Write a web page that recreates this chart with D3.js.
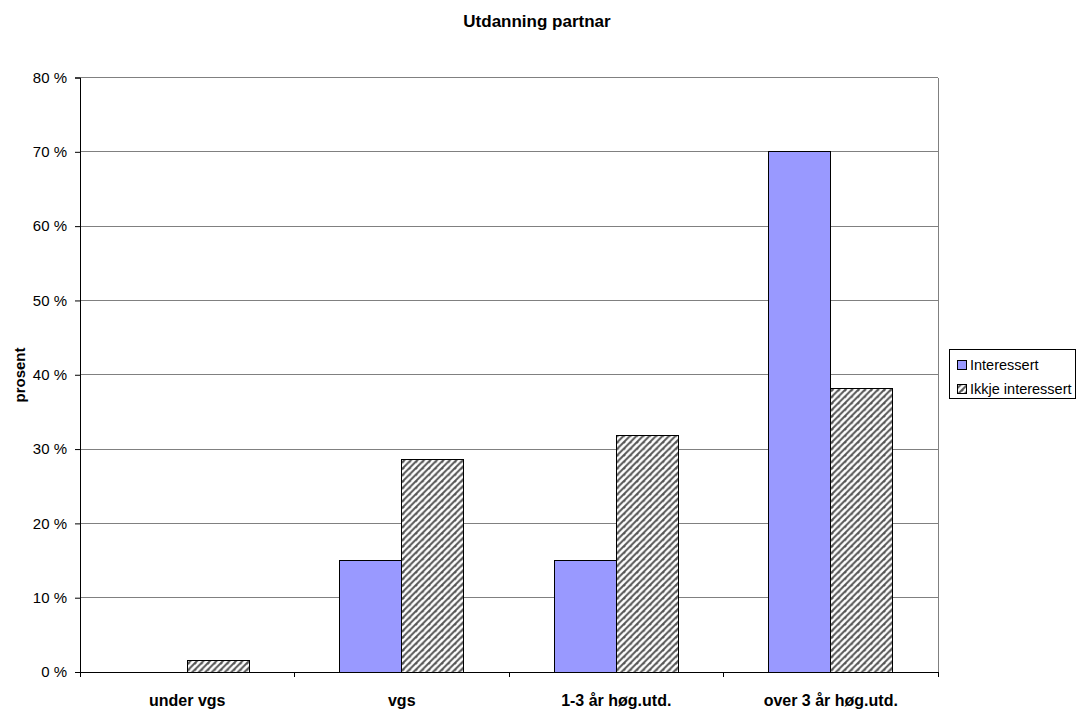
<!DOCTYPE html>
<html><head><meta charset="utf-8">
<script src="https://cdn.jsdelivr.net/npm/d3@7"></script>
<style>body{margin:0;background:#fff}svg{display:block;font-family:"Liberation Sans",Arial,sans-serif}</style>
</head><body><svg id="c" width="1077" height="710"></svg>
<script>
const categories = ["under vgs", "vgs", "1-3 år høg.utd.", "over 3 år høg.utd."];
const seriesNames = ["Interessert", "Ikkje interessert"];
const interessert = [0, 15, 15, 70];
const ikkjeInteressert = [1.6, 28.6, 31.8, 38.2];
const yTicks = [0, 10, 20, 30, 40, 50, 60, 70, 80];
const yTickLabels = ["0 %", "10 %", "20 %", "30 %", "40 %", "50 %", "60 %", "70 %", "80 %"];

const svg = d3.select("#c");
const L = 80, R = 938, T = 77.5, B = 672;
const defs = svg.append("defs");
const pat = defs.append("pattern").attr("id","hatch").attr("patternUnits","userSpaceOnUse")
  .attr("width",6.5).attr("height",6.5);
pat.append("rect").attr("width",6.5).attr("height",6.5).attr("fill","#fff");
pat.append("path").attr("d","M-1,1.5 l2.5,-2.5 M0,6.5 l6.5,-6.5 M5,8 l2.5,-2.5")
  .attr("stroke","#555").attr("stroke-width",2);

const x = d3.scaleBand().domain(categories).range([L, R]);
const y = d3.scaleLinear().domain([0, 80]).range([B, T]);

svg.append("g").selectAll("line").data(yTicks.filter(d=>d>0)).join("line")
  .attr("x1",L).attr("x2",R).attr("y1",d=>y(d)).attr("y2",d=>y(d))
  .attr("stroke","#808080").attr("stroke-width",1).attr("shape-rendering","crispEdges");
svg.append("line").attr("x1",R).attr("x2",R).attr("y1",T).attr("y2",B)
  .attr("stroke","#808080").attr("shape-rendering","crispEdges");

const barW = 62;
const groups = svg.append("g");
categories.forEach((c,i)=>{
  const cx = x(c) + x.bandwidth()/2;
  const vals = [interessert[i], ikkjeInteressert[i]];
  vals.forEach((v,j)=>{
    if (v <= 0) return;
    groups.append("rect")
      .attr("x", cx - barW + j*barW).attr("width", barW)
      .attr("y", y(v)).attr("height", y(0)-y(v))
      .attr("fill", j===0 ? "#9999ff" : "url(#hatch)")
      .attr("stroke", "#000").attr("stroke-width", 1).attr("shape-rendering","crispEdges");
  });
});

const yAxis = d3.axisLeft(y).tickValues(yTicks).tickFormat((d,i)=>yTickLabels[i]).tickSize(5).tickPadding(8);
const ya = svg.append("g").attr("transform",`translate(${L},0)`).call(yAxis);
ya.select(".domain").attr("stroke","#000");
ya.selectAll(".tick line").attr("stroke","#000");
ya.selectAll("text").attr("font-size",15).attr("fill","#000").attr("font-family","Liberation Sans, Arial, sans-serif");

const xa = svg.append("g").attr("transform",`translate(0,${B})`);
xa.append("line").attr("x1",L).attr("x2",R).attr("y1",0).attr("y2",0).attr("stroke","#000").attr("shape-rendering","crispEdges");
const bounds = categories.map(c=>x(c)).concat([R]);
xa.selectAll("line.tk").data(bounds).join("line").attr("class","tk")
  .attr("x1",d=>d).attr("x2",d=>d).attr("y1",0).attr("y2",5).attr("stroke","#000").attr("shape-rendering","crispEdges");
xa.selectAll("text").data(categories).join("text")
  .attr("x",d=>x(d)+x.bandwidth()/2).attr("y",34).attr("text-anchor","middle")
  .attr("font-size",16).attr("font-weight","bold").text(d=>d);

svg.append("text").attr("x",537).attr("y",27).attr("text-anchor","middle")
  .attr("font-size",17).attr("font-weight","bold").text("Utdanning partnar");
svg.append("text").attr("transform","translate(25,375) rotate(-90)").attr("text-anchor","middle")
  .attr("font-size",15).attr("font-weight","bold").text("prosent");

const lg = svg.append("g");
lg.append("rect").attr("x",949.5).attr("y",349.5).attr("width",126).attr("height",49)
  .attr("fill","#fff").attr("stroke","#000");
seriesNames.forEach((n,i)=>{
  const cy = 365 + i*24;
  lg.append("rect").attr("x",957.5).attr("y",cy-4.5).attr("width",9).attr("height",9)
    .attr("fill", i===0 ? "#9999ff" : "url(#hatch)").attr("stroke","#000");
  lg.append("text").attr("x",970).attr("y",cy+5).attr("font-size",14.5).text(n);
});
</script></body></html>
